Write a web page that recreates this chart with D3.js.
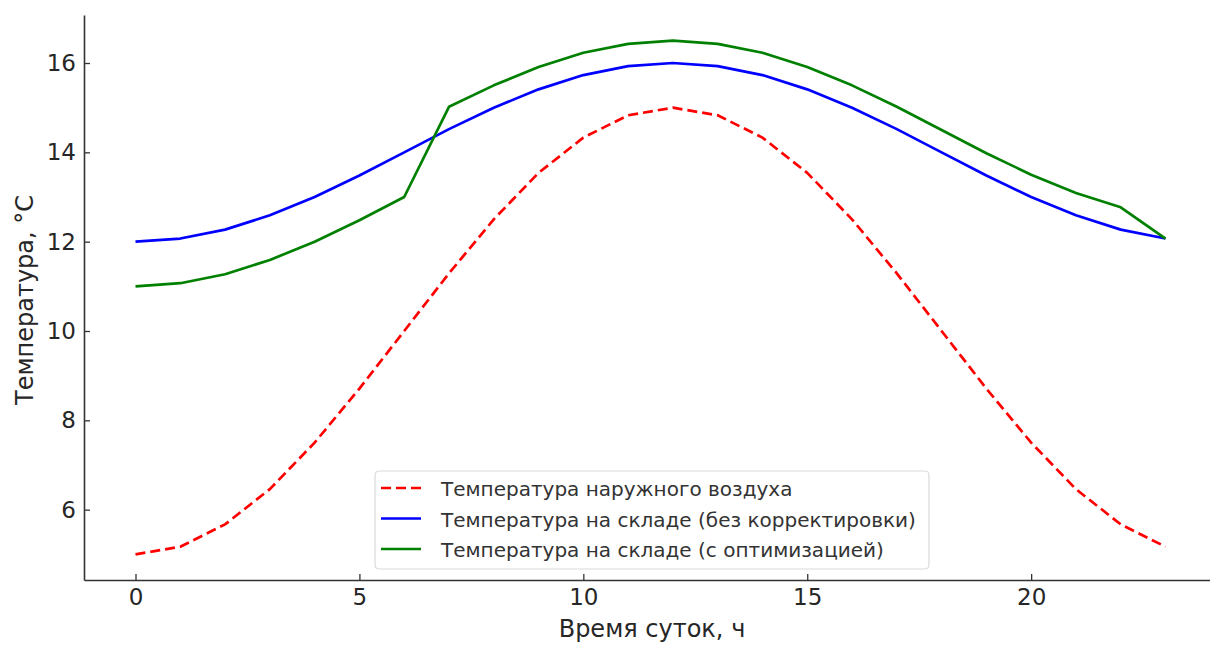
<!DOCTYPE html>
<html><head><meta charset="utf-8">
<script src="https://cdn.jsdelivr.net/npm/d3@7"></script>
<style>
html,body{margin:0;padding:0;background:#fff;}
svg{display:block;font-family:"DejaVu Sans",sans-serif;}
</style></head>
<body>
<svg id="chart" width="1210" height="646"></svg>
<script>
const hours = [0,1,2,3,4,5,6,7,8,9,10,11,12,13,14,15,16,17,18,19,20,21,22,23];
const outdoor = [5.0,5.17,5.67,6.46,7.5,8.71,10.0,11.29,12.5,13.54,14.33,14.83,15.0,14.83,14.33,13.54,12.5,11.29,10.0,8.71,7.5,6.46,5.67,5.17];
const warehouse = [12.0,12.07,12.27,12.59,13.0,13.48,14.0,14.52,15.0,15.41,15.73,15.93,16.0,15.93,15.73,15.41,15.0,14.52,14.0,13.48,13.0,12.59,12.27,12.07];
const optimized = [11.0,11.07,11.27,11.59,12.0,12.48,13.0,15.02,15.5,15.91,16.23,16.43,16.5,16.43,16.23,15.91,15.5,15.02,14.5,13.98,13.5,13.09,12.77,12.07];
const xTicks = [0,5,10,15,20];
const yTicks = [6,8,10,12,14,16];
const seriesNames = ["Температура наружного воздуха","Температура на складе (без корректировки)","Температура на складе (с оптимизацией)"];
const seriesColors = ["#ff0000","#0000ff","#008000"];
const xTitle = "Время суток, ч";
const yTitle = "Температура, °C";

const svg = d3.select("#chart");
const mLeft = 84, mRight = 1217, mTop = 15, mBottom = 580;
const x = d3.scaleLinear().domain([-1.15, 24.15]).range([mLeft, mRight]);
const y = d3.scaleLinear().domain([4.425, 17.075]).range([mBottom, mTop]);
const axisColor = "#333333";
const textColor = "#262626";

const gx = svg.append("g").attr("transform", `translate(0,${mBottom})`)
  .call(d3.axisBottom(x).tickValues(xTicks).tickSizeInner(-6).tickSizeOuter(0).tickPadding(9).tickFormat(d3.format("d")));
const gy = svg.append("g").attr("transform", `translate(${mLeft},0)`)
  .call(d3.axisLeft(y).tickValues(yTicks).tickSizeInner(-6).tickSizeOuter(0).tickPadding(8).tickFormat(d3.format("d")));
[gx, gy].forEach(g => {
  g.select(".domain").attr("stroke", axisColor).attr("stroke-width", 1.6);
  g.selectAll(".tick line").attr("stroke", axisColor).attr("stroke-width", 1.3);
  g.selectAll(".tick text").attr("fill", textColor).attr("font-size", 23).attr("font-family", "DejaVu Sans");
});

svg.append("text").attr("x", 652).attr("y", 637).attr("text-anchor", "middle")
  .attr("font-size", 24).attr("fill", textColor).text(xTitle);
svg.append("text").attr("transform", "translate(33,300) rotate(-90)").attr("text-anchor", "middle")
  .attr("font-size", 24).attr("fill", textColor).text(yTitle);

const line = d3.line().x((d,i) => x(hours[i])).y(d => y(d));
const data = [outdoor, warehouse, optimized];
data.forEach((vals, k) => {
  svg.append("path").datum(vals).attr("d", line)
    .attr("fill", "none").attr("stroke", seriesColors[k]).attr("stroke-width", 2.7)
    .attr("stroke-linejoin", "round")
    .attr("stroke-dasharray", k === 0 ? "10,5" : null);
});

const lg = svg.append("g").attr("transform", "translate(375,471)");
lg.append("rect").attr("x", 0).attr("y", 0).attr("width", 554).attr("height", 98).attr("rx", 4)
  .attr("fill", "#fff").attr("fill-opacity", 0.85).attr("stroke", "#d9d9d9").attr("stroke-width", 1.2);
seriesNames.forEach((name, k) => {
  const cy = 17 + k * 30.5;
  lg.append("line").attr("x1", 6).attr("x2", 46).attr("y1", cy).attr("y2", cy)
    .attr("stroke", seriesColors[k]).attr("stroke-width", 2.7)
    .attr("stroke-dasharray", k === 0 ? "10,5" : null);
  lg.append("text").attr("x", 66).attr("y", cy + 8).attr("font-size", 20).attr("fill", "#333")
    .text(name);
});
</script>
</body></html>
